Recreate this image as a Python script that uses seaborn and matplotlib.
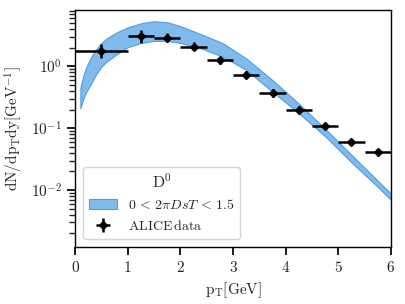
import numpy as np
import matplotlib
matplotlib.use("Agg")
import matplotlib.pyplot as plt
import seaborn as sns

# ALICE D0 data (bin centres, half widths, yields, asymmetric errors)
pt_data = [0.5, 1.25, 1.75, 2.25, 2.75, 3.25, 3.75, 4.25, 4.75, 5.25, 5.75]
pt_halfwidth = [0.5, 0.25, 0.25, 0.25, 0.25, 0.25, 0.25, 0.25, 0.25, 0.25, 0.25]
yield_data = [1.8, 3.1, 2.9, 2.1, 1.25, 0.74, 0.37, 0.20, 0.109, 0.060, 0.041]
err_low = [0.45, 0.7, 0.4, 0.25, 0.15, 0.1, 0.05, 0.03, 0.015, 0.007, 0.005]
err_high = [0.5, 0.8, 0.55, 0.35, 0.2, 0.12, 0.06, 0.03, 0.015, 0.007, 0.005]

# model band 0 < 2 pi D_s T < 1.5
pt_band = [0.1, 0.15, 0.2, 0.3, 0.4, 0.5, 0.6, 0.8, 1.0, 1.25, 1.5, 1.75, 2.0,
           2.4, 2.8, 3.25, 3.75, 4.25, 4.75, 5.25, 5.75, 6.0]
band_upper = [0.45, 0.68, 0.92, 1.4, 1.9, 2.4, 2.85, 3.6, 4.3, 5.0, 5.4, 5.2, 4.5,
              3.3, 2.4, 1.35, 0.60, 0.25, 0.098, 0.037, 0.0141, 0.0087]
band_lower = [0.21, 0.29, 0.37, 0.52, 0.75, 1.0, 1.2, 1.6, 2.05, 2.4, 2.6, 2.6, 2.4,
              1.95, 1.45, 0.88, 0.39, 0.175, 0.074, 0.028, 0.0112, 0.0069]

sns.set_theme(style="ticks")
plt.rcParams["font.family"] = "serif"
plt.rcParams["font.serif"] = ["cmr10", "DejaVu Serif"]
plt.rcParams["mathtext.fontset"] = "cm"
plt.rcParams["axes.formatter.use_mathtext"] = True
plt.rcParams["axes.unicode_minus"] = False
plt.rcParams["font.size"] = 11

fig = plt.figure(figsize=(4.06, 3.04), dpi=100)
ax = fig.add_axes([0.185, 0.188, 0.778, 0.779])

ax.fill_between(pt_band, band_lower, band_upper, facecolor="#80bbec",
                edgecolor="#4c9fe4", linewidth=0.8,
                label=r"$0\,<\,2\pi DsT\,<\,1.5$")
ax.errorbar(pt_data, yield_data, xerr=pt_halfwidth, yerr=[err_low, err_high],
            fmt="D", color="black", markersize=3.8, elinewidth=1.8, capsize=0,
            label=r"$\mathrm{ALICE\,data}$")

ax.set_yscale("log")
ax.set_xlim(0, 6)
ax.set_ylim(1.2e-3, 8.2)
ax.set_xticks(range(7))
ax.set_xlabel(r"$\mathrm{p_T[GeV]}$", fontsize=11)
ax.set_ylabel(r"$\mathrm{dN/dp_Tdy[GeV^{-1}]}$", fontsize=11)
for sp in ax.spines.values():
    sp.set_linewidth(1.0)
    sp.set_color("black")
ax.tick_params(axis="both", labelsize=11, color="black")

ax.legend(title=r"$\mathrm{D^0}$", loc="lower left", fontsize=10,
          title_fontsize=11.5, borderaxespad=0.6)

fig.savefig("out.png", dpi=100)
